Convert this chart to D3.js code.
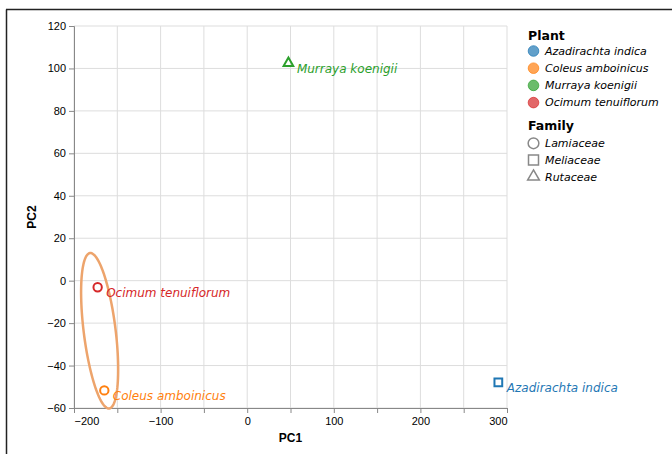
<!DOCTYPE html>
<html>
<head>
<meta charset="utf-8">
<script src="https://cdn.jsdelivr.net/npm/d3@7"></script>
<style>
  body { margin: 0; background: #fff; }
  svg { display: block; font-family: "DejaVu Sans", sans-serif; }
</style>
</head>
<body>
<div id="chart"></div>
<script>
// Data
const plants = ['Azadirachta indica', 'Coleus amboinicus', 'Murraya koenigii', 'Ocimum tenuiflorum'];
const plantFamily = ['Meliaceae', 'Lamiaceae', 'Rutaceae', 'Lamiaceae'];
const families = ['Lamiaceae', 'Meliaceae', 'Rutaceae'];
const pc1 = [290, -165, 47.6, -172.7];
const pc2 = [-47.9, -51.7, 102.5, -3.1];
const plantColors = ['#1f77b4', '#ff7f0e', '#2ca02c', '#d62728'];

// Lamiaceae confidence ellipse (data units): centre and the two semi-axis vectors
const ellipseCenter = [-170.4, -23.6];
const ellipseMajor = [11.1, -36.6];
const ellipseMinor = [18.3, 0.9];

const xTicks = d3.range(-200, 301, 50);
const yTicks = d3.range(-60, 121, 20);

// Layout
const W = 672, H = 454;
const margin = { top: 26, left: 74 };
const innerW = 433, innerH = 382;

const svg = d3.select('#chart').append('svg')
  .attr('width', W)
  .attr('height', H);

// Frame lines (left + top, as in the reference crop)
svg.append('line')
  .attr('x1', 6.5).attr('x2', 6.5).attr('y1', 9.5).attr('y2', H)
  .attr('stroke', '#222').attr('stroke-width', 1.5);
svg.append('line')
  .attr('x1', 6).attr('x2', W).attr('y1', 9.5).attr('y2', 9.5)
  .attr('stroke', '#222').attr('stroke-width', 1.5);

const x = d3.scaleLinear().domain([-200, 300]).range([0, innerW]);
const y = d3.scaleLinear().domain([-60, 120]).range([innerH, 0]);

const colorScale = d3.scaleOrdinal().domain(plants).range(plantColors);
const shapeScale = d3.scaleOrdinal().domain(families)
  .range([d3.symbolCircle, d3.symbolSquare, d3.symbolTriangle]);

const chart = svg.append('g')
  .attr('transform', `translate(${margin.left}, ${margin.top})`);

// Grid
chart.append('g')
  .selectAll('line')
  .data(xTicks)
  .join('line')
  .attr('x1', d => x(d)).attr('x2', d => x(d))
  .attr('y1', 0).attr('y2', innerH)
  .attr('stroke', '#ddd');

chart.append('g')
  .selectAll('line')
  .data(yTicks)
  .join('line')
  .attr('x1', 0).attr('x2', innerW)
  .attr('y1', d => y(d)).attr('y2', d => y(d))
  .attr('stroke', '#ddd');

// X axis
const xAxis = chart.append('g')
  .attr('transform', `translate(0, ${innerH})`)
  .call(d3.axisBottom(x)
    .tickValues(xTicks)
    .tickSize(5)
    .tickFormat(d => d % 100 === 0 ? d3.format('d')(d) : ''));
xAxis.selectAll('text')
  .attr('dy', '0.8em')
  .style('font-size', '11px')
  .attr('fill', '#000')
  .attr('text-anchor', d => d === -200 ? 'start' : d === 300 ? 'end' : 'middle');

xAxis.append('text')
  .attr('x', innerW / 2)
  .attr('y', 34)
  .attr('fill', '#000')
  .attr('text-anchor', 'middle')
  .style('font-size', '12px')
  .style('font-weight', 'bold')
  .text('PC1');

// Y axis
const yAxis = chart.append('g')
  .call(d3.axisLeft(y)
    .tickValues(yTicks)
    .tickSize(5)
    .tickFormat(d3.format('d')));
yAxis.selectAll('text')
  .style('font-size', '11px')
  .attr('fill', '#000');

yAxis.append('text')
  .attr('transform', 'rotate(-90)')
  .attr('x', -innerH / 2)
  .attr('y', -38)
  .attr('fill', '#000')
  .attr('text-anchor', 'middle')
  .style('font-size', '12px')
  .style('font-weight', 'bold')
  .text('PC2');

chart.selectAll('.domain, .tick line').attr('stroke', '#888');

// Ellipse
const ellipsePts = d3.range(0, 2 * Math.PI + 0.001, Math.PI / 60).map(t => [
  ellipseCenter[0] + ellipseMajor[0] * Math.cos(t) + ellipseMinor[0] * Math.sin(t),
  ellipseCenter[1] + ellipseMajor[1] * Math.cos(t) + ellipseMinor[1] * Math.sin(t)
]);

chart.append('path')
  .datum(ellipsePts)
  .attr('d', d3.line().x(d => x(d[0])).y(d => y(d[1])).curve(d3.curveLinearClosed))
  .attr('fill', 'none')
  .attr('stroke', '#eda46c')
  .attr('stroke-width', 2.5);

// Points
const rows = plants.map((p, i) => ({ plant: p, family: plantFamily[i], x: pc1[i], y: pc2[i] }));
const symbolSize = { Lamiaceae: 55, Meliaceae: 60, Rutaceae: 40 };

chart.selectAll('.pt')
  .data(rows)
  .join('path')
  .attr('class', 'pt')
  .attr('transform', d => `translate(${x(d.x)}, ${y(d.y)})`)
  .attr('d', d => d3.symbol().type(shapeScale(d.family)).size(symbolSize[d.family])())
  .attr('fill', 'none')
  .attr('stroke', d => colorScale(d.plant))
  .attr('stroke-width', 2);

chart.selectAll('.pt-label')
  .data(rows)
  .join('text')
  .attr('class', 'pt-label')
  .attr('x', d => x(d.x) + 8.5)
  .attr('y', d => y(d.y) + 5.5)
  .attr('dy', '0.35em')
  .attr('fill', d => colorScale(d.plant))
  .style('font-size', '12px')
  .style('font-style', 'italic')
  .text(d => d.plant);

// Legends
const legend = svg.append('g').attr('transform', 'translate(528, 0)');
const rowStep = 17.2;

legend.append('text')
  .attr('x', 0).attr('y', 36).attr('dy', '0.35em')
  .style('font-size', '12.5px').style('font-weight', 'bold')
  .text('Plant');

const plantItems = legend.selectAll('.plant-item')
  .data(plants)
  .join('g')
  .attr('class', 'plant-item')
  .attr('transform', (d, i) => `translate(0, ${51 + i * rowStep})`);

plantItems.append('circle')
  .attr('cx', 5.5).attr('r', 5.3)
  .attr('fill', d => colorScale(d))
  .attr('fill-opacity', 0.7)
  .attr('stroke', d => colorScale(d))
  .attr('stroke-opacity', 0.7)
  .attr('stroke-width', 1);

plantItems.append('text')
  .attr('x', 17).attr('dy', '0.35em')
  .style('font-size', '11px').style('font-style', 'italic')
  .text(d => d);

legend.append('text')
  .attr('x', 0).attr('y', 126).attr('dy', '0.35em')
  .style('font-size', '12.5px').style('font-weight', 'bold')
  .text('Family');

const famItems = legend.selectAll('.fam-item')
  .data(families)
  .join('g')
  .attr('class', 'fam-item')
  .attr('transform', (d, i) => `translate(0, ${143.3 + i * 16.7})`);

famItems.append('path')
  .attr('transform', 'translate(5.5, 0)')
  .attr('d', d => d3.symbol().type(shapeScale(d)).size(d === 'Rutaceae' ? 60 : d === 'Meliaceae' ? 100 : 90)())
  .attr('fill', 'none')
  .attr('stroke', '#888')
  .attr('stroke-width', 1.5);

famItems.append('text')
  .attr('x', 17).attr('dy', '0.35em')
  .style('font-size', '11px').style('font-style', 'italic')
  .text(d => d);
</script>
</body>
</html>
